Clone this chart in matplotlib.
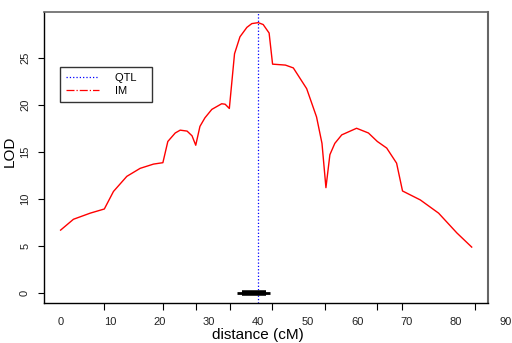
import matplotlib
matplotlib.use("Agg")
import matplotlib.pyplot as plt
from matplotlib.lines import Line2D

plt.rcParams['font.family'] = ['Liberation Sans', 'DejaVu Sans']

# LOD profile (interval mapping)
dist = [0, 2.6, 6.0, 8.85, 10.7, 13.4, 16.1, 18.8, 20.7, 21.7, 23.2, 24.2, 25.6, 26.6,
        27.35, 28.2, 29.2, 30.6, 32.6, 33.3, 34.15, 35.2, 36.3, 37.7, 38.7, 40.0,
        41.0, 42.2, 42.9, 45.5, 47.1, 49.8, 51.8, 52.9, 53.7, 54.5, 55.5, 56.9,
        59.9, 62.3, 64.1, 66.0, 68.0, 69.2, 72.8, 76.5, 80.2, 83.2]
lod = [6.7, 7.85, 8.5, 8.94, 10.8, 12.4, 13.25, 13.7, 13.85, 16.1, 17.0, 17.3, 17.2, 16.7,
       15.7, 17.7, 18.6, 19.5, 20.1, 20.05, 19.6, 25.4, 27.2, 28.2, 28.6, 28.7,
       28.5, 27.6, 24.3, 24.2, 23.9, 21.7, 18.7, 15.9, 11.2, 14.7, 15.9, 16.8,
       17.5, 17.0, 16.1, 15.4, 13.8, 10.85, 9.9, 8.5, 6.4, 4.9]

markers = [8.85, 20.7, 27.4, 34.3, 42.7, 53.5, 64.1, 69.1, 83.9]
qtl_pos = 40
ci_outer = (35.6, 42.4)
ci_inner = (36.7, 41.6)
xlabels = [0, 10, 20, 30, 40, 50, 60, 70, 80, 90]
yticks = [0, 5, 10, 15, 20, 25]
legend_labels = ['QTL', 'IM']

fig = plt.figure(figsize=(5.12, 3.43), dpi=100)
ax = fig.add_axes([44 / 512, 40 / 343, 444 / 512, 291 / 343])

ax.plot(dist, lod, color='red', lw=1.0)
ax.axvline(qtl_pos, color='blue', ls=':', lw=0.9)
ax.plot(ci_outer, [0, 0], color='black', lw=2, solid_capstyle='butt')
ax.plot(ci_inner, [0, 0], color='black', lw=4, solid_capstyle='butt')

ax.set_xlim(-3.36, 86.5)
ax.set_ylim(-1.03, 29.83)

ax.set_xticks(markers)
ax.set_xticklabels([])
for v in xlabels:
    ax.text(v, -3.0, str(v), ha='center', va='center', fontsize=8,
            color='#222222', clip_on=False)
ax.set_yticks(yticks)
ax.set_yticklabels([str(v) for v in yticks], rotation=90, va='center', fontsize=8,
                   color='#222222')
ax.tick_params(axis='both', length=4, width=0.8, direction='out', pad=7)
ax.tick_params(axis='y', pad=6)
ax.tick_params(axis='x', length=5)

for s in ['top', 'right']:
    ax.spines[s].set_color('#666666')
ax.spines['right'].set_linewidth(1.5)
ax.spines['top'].set_linewidth(1.2)
ax.spines['left'].set_linewidth(1.0)
ax.spines['bottom'].set_linewidth(1.0)

ax.set_ylabel('LOD', fontsize=11)
ax.yaxis.set_label_coords(-27 / 444, 0.52)
ax.text(40, -4.4, 'distance (cM)', ha='center', va='center', fontsize=11,
        clip_on=False)

handles = [Line2D([], [], color='blue', ls=':', lw=0.9),
           Line2D([], [], color='red', ls='-.', lw=0.9)]
leg = ax.legend(handles, [l + '   ' for l in legend_labels], loc='upper left',
                bbox_to_anchor=(16 / 444, 1 - 55 / 291), fontsize=8,
                fancybox=False, framealpha=1, edgecolor='#333333',
                handlelength=3.0, handletextpad=1.4, borderpad=0.55,
                borderaxespad=0, labelspacing=0.25)
leg.get_frame().set_linewidth(1.0)

fig.savefig('out.png', dpi=100)
